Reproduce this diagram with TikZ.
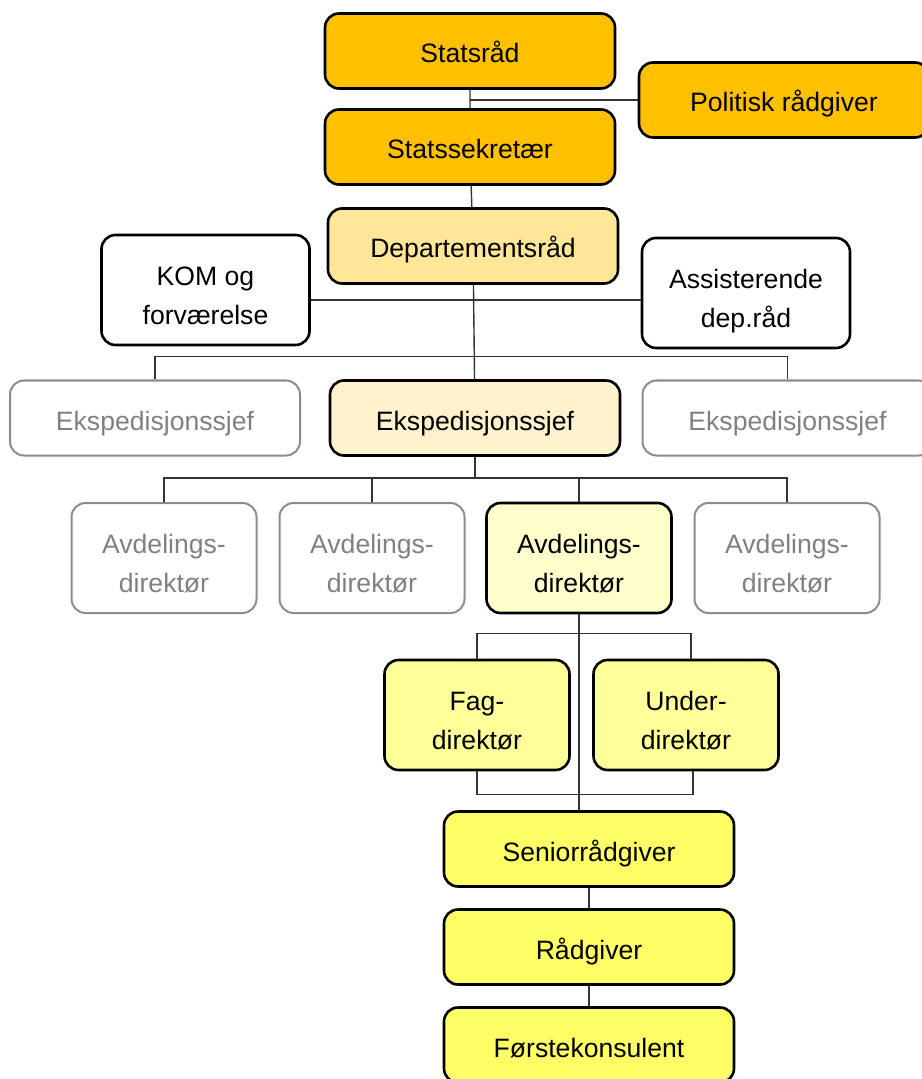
\documentclass[tikz,border=0pt]{standalone}
\usepackage{fontspec}
\setmainfont{Liberation Sans}
\usetikzlibrary{positioning}
\definecolor{topcol}{HTML}{FFC000}
\definecolor{deptcol}{HTML}{FFE699}
\definecolor{ekspcol}{HTML}{FFF2CC}
\definecolor{avdcol}{HTML}{FFFFCC}
\definecolor{dircol}{HTML}{FFFF99}
\definecolor{radcol}{HTML}{FFFF66}
\begin{document}
\begin{tikzpicture}[x=0.5pt,y=-0.5pt,on grid,
   box/.style={draw,rounded corners=7pt,line width=1.3pt,align=center,inner sep=2pt,
      font=\fontsize{13.3}{19.5}\selectfont},
   wide/.style={box,minimum width=145pt,minimum height=37.5pt,text height=12pt,text depth=0pt},
   tall/.style={box,minimum width=92.5pt,minimum height=55pt,text height=34.5pt,text depth=0pt},
   midbox/.style={box,minimum width=104pt,minimum height=55pt,text height=34.5pt,text depth=0pt},
   faded/.style={draw=black!45,text=black!50,line width=1pt},
   conn/.style={draw=black!80,line width=0.7pt}]
   \useasboundingbox (0,0) rectangle (921,1079);
   \node[wide,fill=topcol] (sr) at (470,51) {Statsråd};
   \node[wide,fill=topcol] (ss) [below=48pt of sr] {Statssekretær};
   \node[wide,fill=topcol] (pr) [below right=24.5pt and 157pt of sr] {Politisk rådgiver};
   \node[wide,fill=deptcol] (dr) [below=49.5pt of ss,xshift=1.5pt] {Departementsråd};
   \node[midbox] (kom) [below left=22pt and 133.75pt of dr] {KOM og\\forværelse};
   \node[midbox] (adr) [below right=23.5pt and 136.5pt of dr] {Assisterende\\dep.råd};
   \node[wide,fill=ekspcol] (e_2) [below=86pt of dr,xshift=1pt] {Ekspedisjonssjef};
   \node[wide,faded] (e_1) [left=160pt of e_2] {Ekspedisjonssjef};
   \node[wide,faded] (e_3) [right=156.25pt of e_2] {Ekspedisjonssjef};
   \node[tall,fill=avdcol] (a_3) [below right=70pt and 52pt of e_2] {Avdelings-\\direktør};
   \node[tall,faded] (a_2) [left=103.5pt of a_3] {Avdelings-\\direktør};
   \node[tall,faded] (a_1) [left=104pt of a_2] {Avdelings-\\direktør};
   \node[tall,faded] (a_4) [right=104pt of a_3] {Avdelings-\\direktør};
   \node[tall,fill=dircol] (fd) [below left=78.5pt and 51pt of a_3] {Fag-\\direktør};
   \node[tall,fill=dircol] (ud) [right=104.5pt of fd] {Under-\\direktør};
   \node[wide,fill=radcol] (srg) [below right=67pt and 56pt of fd] {Seniorrådgiver};
   \node[wide,fill=radcol] (rg) [below=49pt of srg] {Rådgiver};
   \node[wide,fill=radcol] (fk) [below=49pt of rg] {Førstekonsulent};
   \draw[conn] (sr) -- (ss) (ss) -- (dr) (dr) -- (e_2);
   \draw[conn] (pr.west) -- (pr.west -| sr.south);
   \draw[conn] ([yshift=-5pt]kom.east) -- ([yshift=-5pt]kom.east -| adr.west);
   \coordinate (b_1) at ([yshift=-36pt]dr.south);
   \draw[conn] (e_1) |- (b_1) -| (e_3);
   \coordinate (b_2) at ([yshift=-10.5pt]e_2.south);
   \draw[conn] (e_2) -- (b_2);
   \draw[conn] (a_1) |- (b_2) -| (a_4);
   \foreach \n in {a_2,a_3} \draw[conn] (\n) |- (b_2);
   \draw[conn] (a_3.south) -- (a_3.south |- srg.north);
   \coordinate (b_3) at ([yshift=-9.5pt]a_3.south);
   \draw[conn] (fd) |- (b_3) -| ([xshift=2.5pt]ud.north);
   \draw[conn] (fd.south) -- ++(0,-11.5pt) -| ([xshift=3.5pt]ud.south);
   \draw[conn] (srg) -- (rg) -- (fk);
\end{tikzpicture}
\end{document}
